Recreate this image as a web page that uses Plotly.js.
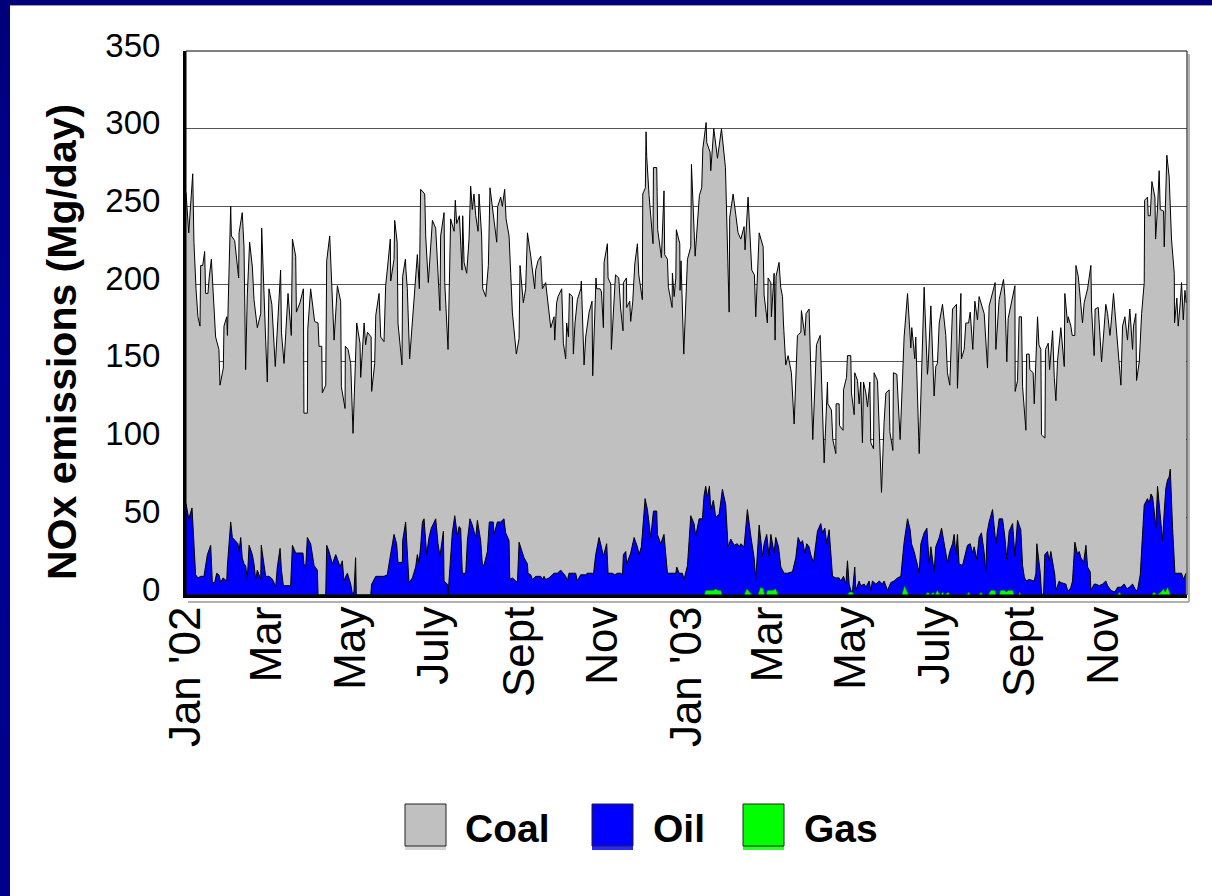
<!DOCTYPE html>
<html><head><meta charset="utf-8">
<script src="https://cdn.plot.ly/plotly-3.0.1.min.js"></script>
<style>
html,body{margin:0;padding:0;width:1212px;height:896px;overflow:hidden;background:linear-gradient(180deg,#00007a 0%,#000096 40%,#00008a 100%);}
#chart{position:absolute;left:10px;top:5px;width:1202px;height:891px;background:#fff;border-top:1px solid #9a9aa8;box-sizing:border-box;}
</style></head><body><div id="chart"></div>
<script>
// Day offsets from 1 Jan 2002, values in Mg/day
const coalPoints = [[0,259],[2,233],[4.9,271],[5.8,227],[7.3,197],[8.7,179],[10.2,173],[10.7,212],[12.2,212],[13.6,221],[14.3,194],[16,194],[16.9,204],[18.5,216],[21.6,166],[24,158],[24.8,135],[27.2,146],[27.7,173],[29.7,179],[30.2,167],[32.6,250],[33.1,231],[35.5,228],[38.4,204],[38.7,233],[41,246],[42.3,224],[43.5,145],[44.7,193],[46.4,227],[48.4,211],[49.6,190],[52,172],[54.5,181],[55.2,236],[58.1,164],[59.3,137],[60.5,197],[62.6,187],[65.1,147],[69,209],[69.6,169],[71.5,149],[74.4,194],[76.8,167],[77.6,229],[80,218],[80.5,182],[83.1,188],[85.6,197],[86,117],[88.5,117],[88.8,171],[90.9,197],[93.8,176],[96.3,175],[97,160],[99,160],[99.4,130],[101.9,135],[102.6,215],[104.8,231],[108,164],[110.4,199],[112.8,189],[113.3,134],[116,120],[116.2,160],[118.2,158],[120.1,149],[121.8,104],[124.5,175],[126.9,162],[127.4,140],[129.9,175],[131,161],[132.3,169],[135,166],[135.4,131],[137.6,149],[138.4,180],[140.8,194],[142,166],[144.4,163],[145.6,199],[147,211],[149,229],[149.3,202],[151.7,216],[152.2,241],[154,227],[154.6,175],[157.5,148],[158,205],[160,216],[160.4,209],[161.4,197],[163.1,152],[165.8,184],[168.7,219],[170.2,197],[171.1,261],[174.1,258],[174.8,231],[176.7,201],[178.4,227],[179.7,241],[182.1,236],[185.2,183],[185.7,231],[188.2,246],[188.7,201],[191.1,158],[193,242],[195.5,234],[196.4,254],[197.4,239],[199.4,244],[201.3,209],[201.8,244],[202.8,214],[204.7,207],[206.4,229],[207.6,263],[208.8,248],[210,258],[211.3,244],[213,234],[213.7,258],[215.6,231],[216.4,197],[218.6,192],[220.5,212],[221.7,262],[224.1,246],[226.6,227],[227.3,250],[229.5,256],[230.7,250],[232.4,261],[233.4,242],[235.6,231],[236.8,207],[238,182],[240.9,155],[242.9,165],[243.6,212],[246,188],[247.7,197],[249,233],[251.4,218],[254.3,197],[255,209],[256.7,215],[258.7,218],[259.9,197],[262.3,201],[264.7,184],[266,172],[268.4,179],[268.9,164],[270.3,188],[271.3,192],[274,197],[275.2,162],[276.9,152],[277.6,175],[278.9,166],[279.6,194],[281.8,192],[282.5,155],[283.7,175],[285.4,190],[287.9,197],[288.3,202],[290.3,148],[291.5,166],[294,182],[296.1,189],[296.6,141],[299,204],[299.5,197],[302,197],[303,195],[304.4,172],[304.9,214],[307.3,226],[307.8,204],[309.8,200],[310.2,158],[313.2,206],[315.6,204],[317,184],[318.7,170],[319,201],[321.2,204],[321.4,185],[323.6,189],[324.3,176],[325.8,189],[327.3,213],[329.2,226],[330.2,206],[332.8,190],[333.1,258],[335,262],[335.5,298],[336,282],[337.7,257],[340.6,226],[340.9,275],[343.3,275],[344,235],[346.7,217],[348.6,260],[349.1,219],[351.1,216],[351.8,198],[354.5,185],[354.7,207],[356,192],[357.2,204],[357.6,235],[360.1,226],[360.3,196],[361,215],[362,186],[363,155],[365.7,216],[368.1,224],[368.6,277],[371.3,218],[374.4,257],[376.1,262],[376.9,287],[379.3,304],[379.8,291],[382.2,285],[382.7,273],[384.1,290],[384.9,300],[387.6,281],[390.5,300],[393.4,275],[396.1,182],[396.5,243],[399,258],[400.9,245],[402.6,233],[404.6,229],[407,237],[407.7,222],[409.9,256],[412.6,209],[414.5,206],[415.5,179],[418,233],[420.9,224],[421.6,193],[424,175],[424.5,204],[426.5,201],[426.9,179],[428.9,207],[429.6,164],[430.3,205],[432.5,214],[433.7,198],[435,192],[435.7,175],[437.4,148],[439.1,154],[440.3,147],[441.5,143],[443.5,110],[445.9,167],[448.4,169],[448.8,183],[451.3,167],[452.2,181],[454.4,184],[457.1,100],[459.8,161],[462.5,167],[465.4,85],[467.8,137],[468.1,123],[470.7,119],[471.7,100],[473.9,91],[474.1,123],[476.3,123],[476.6,109],[479.2,106],[479.5,132],[481.7,140],[482.4,154],[484.8,154],[485.3,130],[487.3,116],[487.7,143],[489.7,138],[490.9,123],[492.1,137],[493.3,98],[494.1,137],[495.8,130],[497,121],[498.7,137],[499.4,98],[501.4,94],[501.8,143],[504.3,138],[505.5,106],[507.2,66],[509.1,111],[510.4,130],[512.8,132],[513.3,105],[515.5,93],[515.9,143],[518.4,142],[520.8,100],[523.7,166],[526.2,194],[528.6,159],[529.3,172],[531.5,152],[532.2,166],[534.7,91],[536.6,150],[538.3,198],[540.7,142],[541.2,147],[543.2,186],[545.6,128],[546.8,147],[548,149],[549.3,175],[551.7,187],[554.1,167],[555.3,143],[557,135],[559,184],[561.9,187],[562.6,133],[565.1,194],[565.5,152],[567.5,158],[568.7,175],[570.7,175],[571.9,182],[573.8,158],[575.3,189],[577.2,177],[578.4,192],[580.4,186],[582.1,181],[584.5,146],[585.7,186],[590.1,201],[590.6,158],[593,190],[596.2,203],[597.2,192],[598.6,150],[599.6,178],[604.5,199],[604.7,131],[606.4,138],[607.6,179],[609.3,179],[610.1,134],[612.5,106],[613,155],[614.9,155],[615.4,145],[617.8,143],[618.6,123],[621,179],[622,161],[623.4,158],[623.9,103],[626.4,101],[626.8,158],[628.8,162],[629.8,145],[632,170],[633.2,140],[634.4,125],[635.6,151],[638,172],[640.5,147],[640.9,194],[642.9,175],[643.4,179],[645.3,173],[646.3,167],[648.2,167],[649,212],[650.7,205],[651.4,197],[653.8,175],[655,188],[656.3,192],[657.5,197],[659.9,212],[660.4,184],[662.3,154],[663,184],[665.3,185],[667.7,150],[670.8,187],[672.1,181],[673.8,167],[674.5,173],[676.4,194],[678.9,164],[679.4,158],[681.8,135],[683,173],[684.7,179],[686.6,164],[687.4,177],[688.3,184],[690.3,158],[691,173],[692.7,181],[693.2,138],[695.2,150],[695.9,166],[696.9,181],[698.8,201],[699.1,254],[701.2,256],[701.7,244],[703.2,244],[704.4,266],[706.6,256],[707.1,229],[708.5,249],[709.7,273],[710.5,248],[712.9,247],[713.4,224],[715.3,283],[717,269],[718.7,229],[720.7,207],[720.9,175],[722.6,191],[723.6,173],[725.1,188],[726,201],[727.3,177],[728.5,196],[729.4,188]];

const oilPoints = [[0,59],[2,49],[4.4,56],[5.3,39],[7,13],[8.8,11],[10.7,12],[13.1,12],[15.6,26],[18,32],[19.2,8],[20.9,8],[22.4,14],[24,13],[25.3,8],[27,11],[29.7,9],[30.2,19],[32.6,47],[33.8,37],[36.2,35],[37.9,33],[38.7,28],[39.9,37],[41,24],[42.3,20],[43.5,19],[44.7,10],[46,32],[48.4,26],[49.6,20],[50.8,10],[52,16],[54.5,10],[54.9,32],[56.9,20],[58.1,12],[60.5,12],[62.2,11],[63.7,9],[65.4,5],[66.6,18],[68.6,30],[69.6,16],[71,6],[76.3,6],[77.6,32],[80,27],[85.3,27],[86,20],[87.3,18],[88.5,37],[90.9,33],[93.4,19],[95.8,16],[96.3,0],[101.9,0],[102.6,32],[104.3,28],[106.7,20],[109.2,26],[110.9,22],[112.3,18],[114,22],[115.2,9],[116.5,12],[117.7,14],[120.1,7],[121.3,1],[122.5,2],[123.7,24],[124.2,0],[134.7,0],[135.4,7],[138.4,12],[144.4,12],[146.8,13],[148.8,24],[151.7,39],[153.6,33],[154.6,21],[157.8,21],[158,35],[160.2,47],[161.4,31],[162.6,8],[165.1,11],[167.5,18],[168.7,26],[169.9,21],[171.1,31],[172.4,47],[173.6,49],[175.5,26],[177.2,37],[178.9,43],[182.1,49],[183.8,33],[185.2,25],[187.7,41],[188.2,9],[190.6,7],[191.1,0],[193,26],[194.2,40],[196,51],[197.9,38],[199.1,44],[200.3,43],[201.5,14],[204,14],[205.2,35],[207.1,49],[208.8,45],[211.3,37],[212.5,48],[214.9,35],[216.1,20],[217.3,19],[219.8,28],[221.2,47],[224.1,47],[224.6,39],[227.1,47],[229.5,47],[231.9,49],[233.1,40],[235.6,35],[236.1,10],[238,11],[240.4,9],[241.7,8],[242.9,34],[245.3,28],[246.5,24],[249,20],[249.4,14],[251.4,13],[252.6,10],[255,12],[258.7,12],[259.9,10],[261.1,12],[262.3,10],[264.7,11],[267.2,13],[268.4,14],[270.8,14],[273.3,16],[276.9,12],[278.1,9],[279.3,14],[284.2,14],[285.4,9],[287.8,13],[291.5,13],[292.7,14],[296.4,14],[297.1,13],[298.8,26],[301.2,37],[302.9,31],[304.4,25],[306.8,33],[307.8,14],[311,14],[312.7,13],[314.6,14],[317,14],[318.3,13],[319,26],[320.7,28],[321.4,20],[324.3,27],[326.8,37],[329.2,31],[330.4,26],[332.1,31],[332.8,39],[334.8,62],[336.5,55],[338.9,37],[340.9,54],[343.3,54],[343.8,39],[346.2,33],[348.6,39],[351.1,14],[353.5,14],[357.2,14],[357.9,18],[359.6,14],[362,14],[363.2,10],[365.7,19],[368.1,51],[370.5,46],[371.7,38],[374.2,49],[376.6,49],[377.8,64],[379,70],[380.3,63],[381.7,70],[382.7,55],[384.6,61],[386.3,50],[388.8,52],[391.2,68],[393.6,58],[395.3,31],[397.3,36],[399.7,32],[402.1,33],[403.4,31],[404.6,33],[407,31],[409.4,55],[411.9,38],[414.3,24],[415.5,10],[418,45],[420.4,25],[421.6,33],[423.5,39],[425.2,25],[426.5,39],[428.9,27],[430.1,37],[432.1,31],[433.8,18],[436.2,14],[438.6,14],[442.3,15],[444.7,24],[446.4,37],[448.4,33],[449.6,35],[451.3,27],[452.7,33],[454.4,31],[455.6,26],[457.6,21],[459.3,33],[460.5,41],[462.9,46],[464.2,40],[465.9,43],[467.3,33],[469,42],[471.5,12],[473.9,11],[476.3,11],[477.5,9],[479.5,12],[481.2,7],[482.4,22],[483.6,7],[484.8,3],[486,2],[487.7,18],[488.5,3],[490.9,9],[492.1,6],[494.6,7],[495.8,5],[498.2,9],[499.4,3],[500.6,9],[503.1,7],[505.5,9],[507.9,7],[509.1,9],[511.6,3],[514,8],[516.4,9],[518.9,11],[521.3,12],[523.7,34],[526.2,49],[528.1,42],[529.1,33],[531,28],[533.5,19],[534.7,14],[535.9,33],[538.3,40],[540.3,43],[542,20],[543.2,31],[545.6,15],[546.8,31],[549.3,37],[551,43],[552.9,33],[555.3,21],[557,28],[559,33],[560.2,39],[561.4,26],[562.6,39],[563.8,20],[566.3,19],[567.5,24],[569.9,32],[571.9,33],[573.6,27],[574.8,31],[576.7,23],[578.4,37],[580.1,40],[582,28],[583.3,15],[584.2,40],[585.7,47],[588.2,55],[590.6,33],[593,49],[595.5,49],[597.2,37],[598.6,23],[600.3,41],[602.8,46],[604.5,25],[606.4,48],[608.8,42],[610.1,19],[611.3,12],[612.5,9],[614.9,10],[618.6,9],[619.8,14],[620.5,33],[623,14],[623.9,1],[625.4,0],[626.3,26],[628.3,28],[629.5,22],[630.7,28],[631.9,22],[633.6,13],[634.4,3],[636.8,9],[638,8],[640.5,7],[641.7,7],[642.9,3],[644.1,3],[645.3,5],[646.5,9],[648.2,34],[650.2,26],[651.4,28],[652.6,24],[654.6,21],[656.3,32],[657.5,18],[659.4,15],[659.9,3],[662.3,7],[663.5,7],[666,6],[668.4,7],[670.8,9],[672.1,6],[674.5,3],[676.9,2],[678.1,3],[679.4,5],[681.8,5],[684.2,7],[686.2,4],[687.9,5],[690.3,7],[692.7,3],[693.9,3],[695.9,13],[697.6,39],[698.8,58],[701.2,62],[702.5,59],[703.7,65],[704.9,63],[706.1,54],[707.3,43],[708.5,70],[710.2,53],[712.2,35],[713.4,54],[714.6,69],[715.8,74],[717,76],[717.8,81],[718.3,68],[719.5,43],[721.2,14],[723.1,14],[726,14],[727.5,10],[729.2,14]];

const gasPoints = [[0,0],[378,0],[379,3],[385,3],[386,4],[388,3],[390,3],[391,0],[407,0],[409,4],[411,2],[413,0],[417,0],[419,5],[421,4],[422,0],[423,0],[424,3],[428,3],[430,4],[432,0],[482,0],[484,2],[486,2],[487,0],[522,0],[524,6],[526,2],[527,0],[539,0],[541,2],[543,0],[545,2],[546,0],[548,3],[550,0],[552,2],[553,0],[556,2],[557,0],[569,0],[571,2],[572,0],[578,0],[580,2],[581,0],[585,0],[587,3],[590,3],[591,0],[593,0],[594,3],[597,3],[598,2],[600,3],[603,3],[604,0],[607,0],[608,2],[609,0],[679,0],[681,2],[682,0],[704,0],[706,2],[708,0],[711,2],[713,4],[714,2],[716,5],[717,3],[718,0],[729,0]];

const tickDates = ['2002-01-01','2002-03-01','2002-05-01','2002-07-01','2002-09-01','2002-11-01','2003-01-01','2003-03-01','2003-05-01','2003-07-01','2003-09-01','2003-11-01'];
const tickLabels = ["Jan '02","Mar","May","July","Sept","Nov","Jan '03","Mar","May","July","Sept","Nov"];
const seriesNames = ['Coal','Oil','Gas'];
const seriesColors = ['#C0C0C0','#0000FF','#00FF00'];

const T0 = Date.UTC(2002,0,1), DAY = 86400000;
const toX = pts => pts.map(p => T0 + p[0]*DAY);
const toY = pts => pts.map(p => p[1]);

const FONT = 'Arial, "Liberation Sans", sans-serif';
const W = 1202, H = 891;
const M = {l:176, r:25, t:45, b:302};
const PW = W - M.l - M.r, PH = H - M.t - M.b;
const px = x => (x - M.l) / PW;
const py = y => (H - M.b - y) / PH;

const allPts = [coalPoints, oilPoints, gasPoints];
const traces = allPts.map((pts,i) => ({
  type:'scatter', mode:'lines', name:seriesNames[i],
  x: toX(pts), y: toY(pts),
  fill:'tozeroy', fillcolor: seriesColors[i],
  line:{color: i===2 ? '#006600' : '#000000', width: i===2 ? 0.6 : 1},
  hoverinfo:'skip', showlegend:false
}));

const shapes = [
  {type:'rect', xref:'paper', yref:'paper', x0:0, x1:1, y0:0, y1:1, line:{color:'#000', width:1}, layer:'above'},
  {type:'line', xref:'paper', yref:'paper', x0:px(M.l+2), x1:px(M.l+PW+2), y0:py(H-M.b+7), y1:py(H-M.b+7), line:{color:'#999', width:1.5}},
  {type:'line', xref:'paper', yref:'paper', x0:px(M.l+PW+2), x1:px(M.l+PW+2), y0:py(M.t+3), y1:py(H-M.b+7), line:{color:'#999', width:1.5}}
];
const annotations = [
  {xref:'paper', yref:'paper', x:px(52), y:py(336), text:'<b>NOx emissions (Mg/day)</b>', textangle:-90, showarrow:false, xanchor:'center', yanchor:'middle', font:{family:FONT, size:41, color:'#000'}}
];
const legX = [395, 582, 733], legTextX = [453, 641, 792];
const bandColors = ['#d4d4d4','#2a2aff','#2aff2a'];
seriesNames.forEach((n,i) => {
  shapes.push({type:'rect', xref:'paper', yref:'paper', x0:px(legX[i]), x1:px(legX[i]+41), y0:py(844), y1:py(840), line:{width:0}, fillcolor:bandColors[i]});
  shapes.push({type:'rect', xref:'paper', yref:'paper', x0:px(legX[i]), x1:px(legX[i]+41), y0:py(840), y1:py(798), line:{color:'#222', width:1}, fillcolor:seriesColors[i]});
  annotations.push({xref:'paper', yref:'paper', x:px(legTextX[i]), y:py(822), text:'<b>'+n+'</b>', showarrow:false, xanchor:'left', yanchor:'middle', font:{family:FONT, size:39, color:'#000'}});
});

const layout = {
  width: W, height: H,
  margin: M,
  paper_bgcolor:'rgba(0,0,0,0)', plot_bgcolor:'#fff',
  font:{family:FONT, color:'#000'},
  xaxis:{type:'date', range:['2002-01-01','2004-01-01'], tickmode:'array', tickvals:tickDates, ticktext:tickLabels,
    tickangle:-90, tickfont:{family:FONT, size:44, color:'#000'}, ticks:'', ticklabelstandoff:-9,
    showgrid:false, showline:true, linecolor:'#000', linewidth:3, zeroline:false, fixedrange:true},
  yaxis:{range:[0,350], tickmode:'linear', tick0:0, dtick:50, tickfont:{family:FONT, size:33, color:'#000'},
    ticks:'', ticklabelstandoff:16, ticklabelshift:-6, showgrid:true, gridcolor:'#555', gridwidth:1,
    showline:true, linecolor:'#000', linewidth:3, zeroline:false, fixedrange:true},
  shapes: shapes, annotations: annotations, showlegend:false
};
Plotly.newPlot('chart', traces, layout, {displayModeBar:false, staticPlot:true});
</script></body></html>
